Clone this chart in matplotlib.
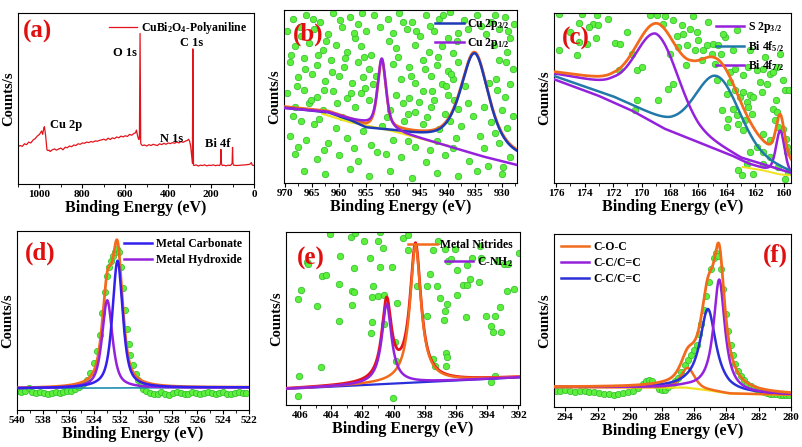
import numpy as np
import matplotlib.pyplot as plt
from matplotlib.ticker import MultipleLocator

plt.rcParams['font.family'] = ['Liberation Serif', 'DejaVu Serif']
plt.rcParams['font.weight'] = 'bold'
plt.rcParams['axes.labelweight'] = 'bold'
plt.rcParams['mathtext.fontset'] = 'custom'
plt.rcParams['mathtext.rm'] = 'Liberation Serif:bold'
plt.rcParams['mathtext.it'] = 'Liberation Serif:bold'
plt.rcParams['mathtext.bf'] = 'Liberation Serif:bold'
plt.rcParams['mathtext.default'] = 'bf'

# ---------------- (a) survey ----------------
a_x = [1100, 1090, 1080, 1070, 1060, 1050, 1040, 1030, 1020, 1010, 1000, 995, 990, 985, 980, 977, 974, 971,
       968, 965, 960, 955, 950, 940, 930, 920, 910, 900, 890, 880, 870, 860, 850, 840, 830, 820, 810, 800,
       790, 780, 770, 760, 750, 740, 730, 720, 710, 700, 690, 680, 670, 660, 650, 640, 630, 620, 610, 600,
       590, 580, 570, 560, 552, 548, 544, 540, 536, 534, 531, 528, 525, 520, 510, 500, 490, 480, 470, 460,
       450, 440, 430, 420, 410, 400, 390, 380, 370, 360, 350, 340, 330, 320, 310, 305, 300, 295, 290, 287,
       285, 282, 278, 270, 260, 250, 240, 230, 220, 210, 200, 190, 180, 170, 160, 156, 154, 152, 148, 140,
       130, 120, 110, 102, 100, 98, 95, 80, 60, 40, 20, 12, 8, 0]
a_y = [.218, .225, .220, .235, .230, .245, .240, .257, .265, .280, .290, .300, .310, .290, .325, .335, .310, .280,
       .240, .200, .195, .198, .190, .200, .205, .198, .205, .210, .200, .215, .212, .222, .218, .228, .225, .235, .232, .240,
       .238, .245, .242, .248, .245, .252, .250, .255, .258, .262, .256, .268, .260, .270, .265, .275, .270, .280, .275, .282,
       .278, .290, .285, .295, .300, .315, .290, .270, .260, .270, .880, .240, .230, .225, .228, .222, .230, .225, .232, .228,
       .225, .235, .230, .238, .232, .240, .236, .242, .238, .245, .240, .248, .244, .250, .255, .262, .250, .220, .160, .120,
       .790, .110, .108, .112, .105, .110, .108, .112, .106, .110, .108, .112, .107, .110, .108, .120, .202, .120, .108, .110,
       .106, .110, .108, .120, .214, .120, .110, .108, .110, .112, .115, .125, .110, .108]
a_peaks = ['Cu 2p', 'O 1s', 'C 1s', 'N 1s', 'Bi 4f']
a_peak_x = [952, 657, 345, 439, 229]
a_peak_y = [0.345, 0.768, 0.825, 0.262, 0.232]

# ---------------- (b) Cu 2p ----------------
b_bg_x = [970.1, 962, 958, 955, 950, 947.8, 939.8, 933.6, 927.2]
b_bg_y = [0.433, 0.410, 0.370, 0.345, 0.310, 0.283, 0.212, 0.154, 0.104]
b_bgblue_x = [970.1, 962, 958, 955, 950, 945, 940, 935, 930, 927.2]
b_bgblue_y = [0.433, 0.405, 0.360, 0.315, 0.295, 0.265, 0.235, 0.200, 0.160, 0.140]
b_yellow_x = [963, 958, 954, 950, 946, 942, 940]
b_yellow_y = [0.400, 0.352, 0.326, 0.300, 0.266, 0.232, 0.217]
b_centers = [935.0, 952.1]
b_heights = [0.55, 0.395]
b_fwhm = [6.1, 1.8]
b_eta = [0.6, 0.5]
b_dots_x = [968.5, 966.0, 963.5, 961.0, 958.0, 956.5, 953.5, 951.0, 949.0, 946.5, 944.0, 941.5, 939.5, 937.0, 934.5, 932.0, 929.5, 927.8,
            969.5, 967.0, 964.5, 962.0, 959.5, 957.0, 955.0, 950.0, 947.5, 945.0, 942.5, 940.0, 938.0, 933.0, 930.5, 928.5,
            968.0, 965.5, 963.0, 960.5, 958.5, 956.0, 954.0, 949.5, 946.0, 943.5, 941.0, 939.0, 931.5, 929.0,
            969.0, 966.5, 964.0, 961.5, 959.0, 956.5, 954.5, 950.0, 947.0, 944.5, 942.0, 940.0, 938.0, 930.5, 928.0,
            967.5, 965.0, 962.5, 960.0, 957.5, 955.5, 953.8, 948.5, 946.0, 943.0, 941.0, 939.0, 931.0, 928.5,
            969.5, 966.5, 964.0, 961.0, 958.5, 956.0, 954.5, 949.5, 947.0, 944.5, 942.5, 940.0, 929.5,
            968.0, 965.5, 963.0, 957.0, 950.5, 946.0, 943.0, 940.5, 938.0, 930.0, 928.0,
            967.0, 964.5, 960.5, 955.5, 952.0, 948.0, 944.5, 941.5, 937.5, 932.0, 929.0,
            969.0, 966.0, 962.0, 958.5, 954.0, 950.0, 946.0, 942.0, 939.0, 934.0, 930.5,
            968.0, 964.0, 960.0, 956.5, 953.0, 948.5, 944.0, 940.5, 936.0, 932.5, 928.5,
            966.5, 962.5, 958.0, 954.5, 950.5, 946.5, 942.0, 938.0, 934.5, 930.0,
            967.2, 964.8, 962.3, 959.8, 957.3, 955.8, 952.5, 950.8, 948.2, 945.8, 943.2, 940.8, 938.3, 936.2, 933.8, 931.2, 928.9,
            968.8, 966.2, 963.8, 961.3, 958.8, 955.3, 953.2, 949.2, 946.8, 944.2, 941.8, 939.3, 936.8, 932.3, 929.2,
            967.8, 965.2, 962.8, 960.3, 957.8, 955.2, 948.2, 945.3, 942.8, 940.3, 938.8, 936.2, 933.3, 930.8,
            968.4, 963.6, 959.4, 951.2, 947.3, 943.8, 939.6, 935.3, 931.2, 967.6, 962.8, 957.2, 951.4, 947.3, 943.2,
            938.5, 933.2, 929.8]
b_dots_y = [.95, .97, .93, .98, .96, .92, .97, .95, .98, .93, .97, .95, .99, .94, .97, .93, .96, .92,
            .88, .85, .89, .86, .90, .84, .88, .87, .89, .85, .88, .84, .87, .86, .89, .84,
            .79, .81, .77, .80, .76, .79, .74, .78, .80, .76, .79, .75, .80, .76,
            .70, .72, .68, .71, .67, .70, .66, .69, .67, .71, .68, .65, .70, .71, .66,
            .61, .63, .59, .62, .58, .61, .57, .60, .58, .62, .57, .60, .60, .57,
            .52, .54, .50, .53, .49, .52, .48, .51, .49, .53, .48, .51, .50,
            .44, .46, .42, .44, .42, .41, .44, .40, .43, .42, .39,
            .36, .34, .32, .30, .33, .36, .34, .31, .33, .35, .32,
            .27, .25, .23, .26, .22, .25, .21, .24, .20, .27, .23,
            .17, .14, .16, .13, .18, .15, .12, .16, .13, .10, .15,
            .07, .05, .08, .04, .07, .03, .06, .04, .07, .05,
            .90, .95, .82, .94, .87, .98, .90, .82, .93, .88, .91, .97, .82, .89, .91, .97, .88,
            .74, .66, .74, .64, .72, .73, .62, .73, .62, .66, .73, .63, .56, .58, .70,
            .56, .48, .54, .46, .52, .55, .46, .47, .53, .56, .48, .46, .44, .54,
            .39, .37, .38, .38, .40, .38, .36, .39, .29, .21, .19, .20, .17, .24, .19,
            .26, .20, .09]

# ---------------- (c) S 2p / Bi 4f ----------------
c_bglow_x = [176.15, 173.1, 170.7, 168.4, 166.0, 163.7, 162.5, 161.4, 159.5]
c_bglow_y = [0.610, 0.516, 0.427, 0.320, 0.240, 0.163, 0.114, 0.084, 0.050]
c_bgteal_x = [176.15, 172, 168, 165, 162, 159.5]
c_bgteal_y = [0.630, 0.510, 0.360, 0.270, 0.160, 0.070]
c_bgs_x = [176.15, 172, 169, 166, 163, 159.5]
c_bgs_y = [0.645, 0.585, 0.480, 0.300, 0.150, 0.060]
c_bgenv_x = [176.15, 172, 168.8, 166.5, 164.8, 163, 161, 159.5]
c_bgenv_y = [0.655, 0.610, 0.530, 0.450, 0.360, 0.270, 0.190, 0.120]
c_yellow_x = [162.9, 161.5, 160.3, 159.6]
c_yellow_y = [0.094, 0.075, 0.051, 0.045]
c_centers = [168.9, 164.65, 160.25]   # S 2p3/2, Bi 4f5/2, Bi 4f7/2
c_heights = [0.40, 0.37, 0.245]
c_fwhm = [3.4, 3.5, 0.7]
c_dots_zx = [88, 155, 200, 148, 190, 205, 178, 198, 148, 170, 255, 270, 88, 140, 268, 320, 315, 322, 360, 380, 405,
             430, 488, 460, 440, 470, 495, 520, 550, 545, 445, 420, 515, 468, 430, 415, 385, 335, 305, 555, 600, 615,
             640, 655, 680, 700, 720, 740, 765, 778, 730, 615, 590, 630, 640, 660, 670, 695, 650, 655, 610, 595, 625,
             645, 590, 640, 730, 740, 735, 758, 768, 770, 770, 680, 660, 700, 720, 650, 670, 700, 625, 635, 745, 765,
             775, 720, 700, 738, 572, 565, 610, 530, 505, 585, 480, 400, 455, 500, 535, 580, 620, 660, 705, 750,
             560, 600, 690, 710, 760, 575, 620, 665, 745, 290, 235, 120]
c_dots_zy = [42, 42, 45, 68, 70, 75, 80, 112, 125, 130, 128, 130, 148, 165, 210, 210, 328, 300, 45, 45, 48,
             60, 48, 102, 108, 135, 148, 150, 130, 160, 140, 160, 180, 195, 250, 265, 300, 200, 160, 190, 215, 205,
             225, 200, 210, 205, 220, 200, 270, 270, 215, 270, 280, 290, 275, 285, 290, 275, 305, 320, 325, 355, 370,
             360, 380, 390, 325, 335, 360, 385, 415, 440, 455, 440, 455, 455, 470, 490, 520, 490, 510, 525, 500, 535,
             515, 420, 400, 300, 160, 135, 150, 135, 120, 110, 85, 70, 75, 95, 65, 100, 90, 150, 170, 160,
             240, 245, 245, 250, 240, 330, 345, 340, 380, 95, 55, 95]
c_dots_x = [176 - (v - 78) / 42.75 for v in c_dots_zx]
c_dots_y = [(548 - v) / 510 for v in c_dots_zy]

# ---------------- (d) O 1s ----------------
d_bg_x = [540, 522]
d_bg_y = [0.121, 0.126]
d_centers = [532.2, 533.0]   # carbonate, hydroxide
d_heights = [0.711, 0.49]
d_fwhm = [0.95, 0.95]
d_data_x = [540.0, 539.7, 539.4, 539.1, 538.8, 538.5, 538.2, 537.9, 537.6, 537.3, 537.0, 536.7, 536.4, 536.1,
            535.8, 535.5, 535.2, 534.9, 534.6, 534.3, 534.0, 533.8, 533.6, 533.4, 533.2, 533.0, 532.85, 532.7,
            532.55, 532.4, 532.25, 532.1, 531.95, 531.8, 531.65, 531.5, 531.35, 531.2, 531.0, 530.8, 530.6,
            530.4, 530.2, 530.0, 529.7, 529.4, 529.1, 528.8, 528.5, 528.2, 527.9, 527.6, 527.3, 527.0, 526.7,
            526.4, 526.1, 525.8, 525.5, 525.2, 524.9, 524.6, 524.3, 524.0, 523.7, 523.4, 523.1, 522.8, 522.5, 522.2]
d_data_y = [.105, .098, .104, .125, .100, .096, .102, .094, .090, .097, .101, .095, .099, .104,
            .108, .115, .128, .146, .170, .205, .262, .330, .420, .540, .660, .750, .800, .830,
            .860, .885, .900, .880, .800, .680, .560, .450, .370, .310, .250, .200, .165,
            .140, .120, .105, .095, .088, .092, .098, .090, .086, .093, .100, .094, .088, .092,
            .099, .095, .089, .093, .101, .096, .090, .094, .099, .092, .088, .095, .100, .093, .097]

# ---------------- (e) N 1s ----------------
e_bg_x = [406.9, 391.9]
e_bg_y = [0.093, 0.160]
e_centers = [398.6, 400.45]   # nitrides, C-NH2
e_heights = [0.79, 0.463]
e_fwhm = [0.85, 0.75]
e_dots_zx = [195, 258, 270, 298, 345, 340, 355, 415, 430, 125, 128, 225, 172, 183, 267, 315, 345, 380, 428, 505,
             520, 540, 570, 548, 558, 605, 620, 648, 645, 695, 718, 728, 762, 575, 595, 605, 615, 643, 575, 517,
             495, 455, 485, 525, 545, 540, 538, 98, 107, 157, 222, 262, 266, 262, 323, 320, 340, 356, 395, 320,
             318, 222, 356, 390, 394, 485, 503, 510, 543, 545, 543, 603, 663, 690, 678, 685, 708, 704, 725, 748,
             168, 103, 98, 385, 690, 677]
e_dots_zy = [35, 45, 32, 57, 30, 57, 77, 48, 40, 120, 125, 102, 163, 158, 138, 107, 135, 135, 85, 85,
             57, 80, 82, 118, 112, 130, 107, 108, 72, 118, 127, 127, 92, 145, 190, 188, 170, 180, 220, 192,
             155, 192, 193, 228, 245, 268, 295, 232, 205, 252, 185, 208, 210, 250, 192, 225, 222, 218, 243, 300,
             333, 298, 307, 360, 415, 283, 410, 430, 392, 405, 430, 285, 283, 282, 310, 330, 328, 255, 208, 200,
             433, 460, 520, 527, 462, 478]
e_dots_x = [406 - (v - 105) / 46.8 for v in e_dots_zx]
e_dots_y = [(548 - v) / 518 for v in e_dots_zy]

# ---------------- (f) C 1s ----------------
f_bg_x = [294.7, 286.5, 285.0, 283.8, 280.0]
f_bg_y = [0.115, 0.112, 0.095, 0.077, 0.071]
f_centers = [286.4, 284.45, 285.15]   # C-O-C, C-C/C=C, C-C/C=C
f_heights = [0.115, 0.65, 0.47]
f_fwhm = [1.0, 0.85, 1.2]
f_data_x = [294.6, 294.3, 294.0, 293.7, 293.4, 293.1, 292.8, 292.5, 292.2, 291.9, 291.6, 291.3, 291.0, 290.7,
            290.4, 290.1, 289.8, 289.5, 289.2, 289.0, 288.8, 288.6, 288.4, 288.2, 288.0, 287.8, 287.6, 287.4,
            287.2, 287.0, 286.8, 286.6, 286.4, 286.2, 286.0, 285.85, 285.7, 285.55, 285.4, 285.25, 285.1,
            284.95, 284.8, 284.65, 284.5, 284.35, 284.2, 284.05, 283.9, 283.75, 283.6, 283.45, 283.3, 283.1,
            282.9, 282.7, 282.5, 282.3, 282.1, 281.9, 281.7, 281.5, 281.3, 281.1, 280.9, 280.7, 280.5, 280.3, 280.1]
f_data_y = [.095, .090, .098, .092, .088, .094, .090, .085, .088, .082, .078, .074, .072, .076,
            .080, .086, .095, .110, .135, .150, .155, .148, .128, .105, .096, .100, .115, .130,
            .148, .165, .200, .240, .270, .300, .330, .360, .420, .480, .560, .640, .720,
            .800, .860, .890, .870, .800, .680, .540, .440, .360, .300, .250, .210, .180,
            .155, .135, .120, .110, .100, .092, .085, .080, .078, .075, .074, .072, .071, .072, .070]

RED = '#e3131b'
ORANGE = '#f26b1d'
PURPLE = '#9421dc'
BLUE = '#2a2fd8'
TEAL = '#2279a8'
YELLOW = '#f0e21c'
GFILL = '#5cf03c'
GEDGE = '#2eb82a'


def pv(x, c, h, f, eta):
    lor = 1.0 / (1.0 + (2.0 * (x - c) / f) ** 2)
    gau = np.exp(-4.0 * np.log(2) * ((x - c) / f) ** 2)
    return h * (eta * lor + (1 - eta) * gau)


def style(ax, xlim, major, minor):
    ax.set_xlim(*xlim)
    ax.set_ylim(0, 1)
    ax.xaxis.set_major_locator(MultipleLocator(major))
    ax.xaxis.set_minor_locator(MultipleLocator(minor))
    ax.set_yticks([])
    ax.tick_params(axis='x', which='major', direction='out', length=3, width=0.8, labelsize=8, pad=1.5)
    ax.tick_params(axis='x', which='minor', direction='out', length=2, width=0.6)
    for t in ax.get_xticklabels():
        t.set_fontweight('bold')
    ax.set_xlabel('Binding Energy (eV)', fontsize=11.5, fontweight='bold', labelpad=0.5)
    ax.set_ylabel('Counts/s', fontsize=10.5, fontweight='bold', labelpad=2)
    for s in ax.spines.values():
        s.set_linewidth(0.8)


def label(ax, txt, x, y, ha='left'):
    ax.text(x, y, txt, transform=ax.transAxes, color='#e01010', fontsize=18,
            fontweight='bold', ha=ha, va='top')


def dots(ax, x, y):
    ax.scatter(x, y, s=22, c=GFILL, edgecolors=GEDGE, linewidths=0.5, zorder=1, clip_on=True)


leg_kw = dict(frameon=False, prop={'size': 8.5, 'weight': 'bold'}, handlelength=2.4,
              handletextpad=0.3, borderaxespad=0.2, labelspacing=0.35)

fig = plt.figure(figsize=(8.03, 4.47), dpi=100)

# (a)
ax = fig.add_axes([0.0224, 0.5884, 0.2939, 0.3826])
ax.plot(a_x, a_y, color=RED, lw=0.9, label=r'CuBi$_2$O$_4$-Polyaniline')
for t, x, y in zip(a_peaks, a_peak_x, a_peak_y):
    ax.text(x, y, t, fontsize=9, fontweight='bold', ha='left', va='center')
style(ax, (1100, 0), 200, 100)
ax.legend(loc='upper right', **leg_kw)
label(ax, '(a)', 0.02, 0.96)

# (b)
ax = fig.add_axes([0.3537, 0.5906, 0.2902, 0.387])
xb = np.linspace(970.1, 927.2, 800)
bgp = np.interp(xb, b_bg_x[::-1], b_bg_y[::-1])
bgb = np.interp(xb, b_bgblue_x[::-1], b_bgblue_y[::-1])
p32 = pv(xb, b_centers[0], b_heights[0], b_fwhm[0], b_eta[0])
p12 = pv(xb, b_centers[1], b_heights[1], b_fwhm[1], b_eta[1])
dots(ax, b_dots_x, b_dots_y)
ax.plot(b_yellow_x, b_yellow_y, color=YELLOW, lw=1.6, zorder=2)
ax.plot(xb, bgb + p32 + p12 + 0.006, color=ORANGE, lw=2.0, zorder=3)
ax.plot(xb, bgb + p32, color='#1e3ab8', lw=1.8, zorder=4, label=r'Cu 2p$_{3/2}$')
ax.plot(xb, bgp + p12, color=PURPLE, lw=1.8, zorder=5, label=r'Cu 2p$_{1/2}$')
style(ax, (970.1, 927.2), 5, 2.5)
ax.legend(loc='upper right', **leg_kw)
label(ax, '(b)', 0.04, 0.925)

# (c)
ax = fig.add_axes([0.6899, 0.5906, 0.2951, 0.3803])
xc = np.linspace(176.15, 159.5, 800)
blow = np.interp(xc, c_bglow_x[::-1], c_bglow_y[::-1])
bteal = np.interp(xc, c_bgteal_x[::-1], c_bgteal_y[::-1])
bs = np.interp(xc, c_bgs_x[::-1], c_bgs_y[::-1])
benv = np.interp(xc, c_bgenv_x[::-1], c_bgenv_y[::-1])
gs = pv(xc, c_centers[0], c_heights[0], c_fwhm[0], 0.0)
g5 = pv(xc, c_centers[1], c_heights[1], c_fwhm[1], 0.0)
g7 = pv(xc, c_centers[2], c_heights[2], c_fwhm[2], 0.3)
dots(ax, c_dots_x, c_dots_y)
ax.plot(c_yellow_x, c_yellow_y, color=YELLOW, lw=1.4, zorder=2)
ax.plot(xc, blow + g7, color=PURPLE, lw=1.8, zorder=3, label=r'Bi 4f$_{7/2}$')
ax.plot(xc, bteal + g5, color=TEAL, lw=1.8, zorder=4, label=r'Bi 4f$_{5/2}$')
ax.plot(xc, bs + gs, color=PURPLE, lw=1.8, zorder=5, label=r'S 2p$_{3/2}$')
ax.plot(xc, benv + gs + g5 + g7, color=ORANGE, lw=2.0, zorder=6)
style(ax, (176.15, 159.5), 2, 1)
h, l = ax.get_legend_handles_labels()
ax.legend(h[::-1], l[::-1], loc='upper right', **leg_kw)
label(ax, '(c)', 0.035, 0.92)

# (d)
ax = fig.add_axes([0.0212, 0.0828, 0.2889, 0.4004])
xd = np.linspace(540, 522, 800)
bgd = np.interp(xd, d_bg_x[::-1], d_bg_y[::-1])
carb = pv(xd, d_centers[0], d_heights[0], d_fwhm[0], 0.7)
hydr = pv(xd, d_centers[1], d_heights[1], d_fwhm[1], 0.7)
ax.plot(d_data_x, d_data_y, 'o', ms=4.5, mfc=GFILL, mec=GEDGE, mew=0.5, zorder=1)
ax.plot(d_bg_x, d_bg_y, color='#1f8fb0', lw=1.2, zorder=2)
ax.plot(xd, bgd + carb + hydr, color=ORANGE, lw=2.0, zorder=3)
ax.plot(xd, bgd + hydr, color=PURPLE, lw=1.8, zorder=4, label='Metal Hydroxide')
ax.plot(xd, bgd + carb, color='#3320ee', lw=1.8, zorder=5, label='Metal Carbonate')
style(ax, (540, 522), 2, 1)
h, l = ax.get_legend_handles_labels()
ax.legend(h[::-1], l[::-1], loc='upper right', **leg_kw)
label(ax, '(d)', 0.035, 0.94)

# (e)
ax = fig.add_axes([0.3562, 0.094, 0.2914, 0.387])
xe = np.linspace(406.9, 391.9, 800)
bge = np.interp(xe, e_bg_x[::-1], e_bg_y[::-1])
nitr = pv(xe, e_centers[0], e_heights[0], e_fwhm[0], 1.0)
cnh2 = pv(xe, e_centers[1], e_heights[1], e_fwhm[1], 1.0)
dots(ax, e_dots_x, e_dots_y)
ax.plot(e_bg_x, e_bg_y, color=BLUE, lw=1.6, zorder=2)
ax.plot(xe, bge + nitr + cnh2, color=RED, lw=2.0, zorder=3)
l1, = ax.plot(xe, bge + nitr, color=ORANGE, lw=1.8, zorder=4)
l2, = ax.plot(xe, bge + cnh2, color=PURPLE, lw=1.8, zorder=5)
style(ax, (406.9, 391.9), 2, 1)
lg1 = ax.legend([l1], ['Metal Nitrides'], loc='upper right', bbox_to_anchor=(1.0, 1.0), **leg_kw)
ax.add_artist(lg1)
ax.legend([l2], [r'C-NH$_2$'], loc='upper right', bbox_to_anchor=(1.0, 0.905), **leg_kw)
label(ax, '(e)', 0.045, 0.915)

# (f)
ax = fig.add_axes([0.6899, 0.0895, 0.2951, 0.387])
xf = np.linspace(294.7, 280, 800)
bgf = np.interp(xf, f_bg_x[::-1], f_bg_y[::-1])
coc = pv(xf, f_centers[0], f_heights[0], f_fwhm[0], 0.5)
cc1 = pv(xf, f_centers[1], f_heights[1], f_fwhm[1], 1.0)
cc2 = pv(xf, f_centers[2], f_heights[2], f_fwhm[2], 1.0)
ax.plot(f_data_x, f_data_y, 'o', ms=4.5, mfc=GFILL, mec=GEDGE, mew=0.5, zorder=1)
ax.plot(f_bg_x, f_bg_y, color=YELLOW, lw=1.6, zorder=2)
ax.plot(xf, bgf + coc, color=ORANGE, lw=1.8, zorder=3, label='C-O-C')
ax.plot(xf, bgf + cc2, color=BLUE, lw=1.8, zorder=4, label='C-C/C=C')
ax.plot(xf, bgf + cc1, color=PURPLE, lw=1.8, zorder=5, label='C-C/C=C')
ax.plot(xf, bgf + coc + cc1 + cc2, color=ORANGE, lw=2.0, zorder=6)
style(ax, (294.7, 280), 2, 1)
h, l = ax.get_legend_handles_labels()
ax.legend([h[0], h[2], h[1]], [l[0], l[2], l[1]], loc='upper left', **leg_kw)
label(ax, '(f)', 0.985, 0.945, ha='right')

fig.savefig('out.png', dpi=100)
